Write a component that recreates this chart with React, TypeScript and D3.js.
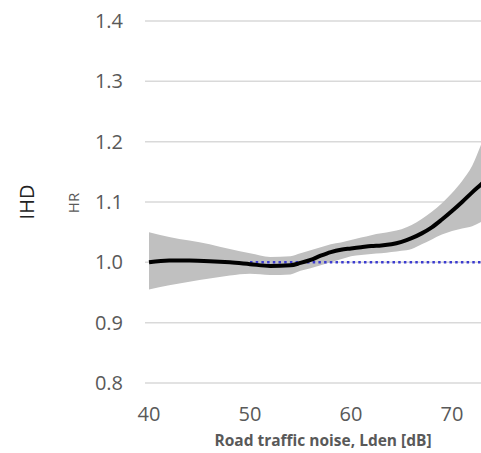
import * as d3 from "d3";

// road traffic noise, Lden [dB]
const noise = [40, 42, 44, 46, 48, 50, 52, 54, 55, 56, 57, 58, 59, 60, 61, 62, 63, 64, 65, 66, 67, 68, 69, 70, 71, 72, 73, 74];
// hazard ratio (IHD)
const hr = [1.0, 1.003, 1.003, 1.002, 1.0, 0.997, 0.994, 0.995, 0.999, 1.004, 1.011, 1.017, 1.021, 1.023, 1.025, 1.027, 1.028, 1.03, 1.034, 1.04, 1.048, 1.058, 1.071, 1.085, 1.1, 1.116, 1.131, 1.147];
const lower = [0.955, 0.962, 0.968, 0.973, 0.978, 0.981, 0.979, 0.98, 0.986, 0.99, 0.995, 1.0, 1.005, 1.01, 1.012, 1.014, 1.015, 1.017, 1.019, 1.022, 1.03, 1.038, 1.046, 1.052, 1.056, 1.06, 1.068, 1.076];
const upper = [1.05, 1.042, 1.036, 1.03, 1.022, 1.015, 1.009, 1.01, 1.015, 1.02, 1.025, 1.03, 1.033, 1.037, 1.041, 1.045, 1.048, 1.051, 1.055, 1.062, 1.072, 1.084, 1.098, 1.115, 1.135, 1.16, 1.2, 1.24];

const yTicks = [0.8, 0.9, 1.0, 1.1, 1.2, 1.3, 1.4];
const xTicks = [40, 50, 60, 70];
const refStart = 50;

const W = 481;
const H = 453;

export default function App() {
  const x = d3.scaleLinear().domain([40, 70]).range([149, 452]);
  const y = d3.scaleLinear().domain([0.8, 1.4]).range([383, 21]);

  const rows = noise.map((n, i) => ({ n, hr: hr[i], lo: lower[i], hi: upper[i] }));

  const band = d3
    .area<any>()
    .x((d) => x(d.n))
    .y0((d) => y(d.lo))
    .y1((d) => y(d.hi))
    .curve(d3.curveMonotoneX);

  const line = d3
    .line<any>()
    .x((d) => x(d.n))
    .y((d) => y(d.hr))
    .curve(d3.curveMonotoneX);

  const font = "'Open Sans', sans-serif";
  const grey = "#595959";

  return (
    <svg
      width={W}
      height={H}
      style={{ position: "absolute", left: 0, top: 0, background: "#fff" }}
      fontFamily={font}
    >
      {/* gridlines */}
      {yTicks.map((t) => (
        <line key={t} x1={145} x2={W} y1={y(t)} y2={y(t)} stroke="#d9d9d9" strokeWidth={1.5} />
      ))}

      {/* confidence band */}
      <path d={band(rows) as string} fill="#c0c0c0" />

      {/* reference HR = 1 */}
      <line
        x1={x(refStart)}
        x2={W}
        y1={y(1)}
        y2={y(1)}
        stroke="#3b3bd0"
        strokeWidth={2.5}
        strokeDasharray="2.5 3.2"
      />

      {/* HR curve */}
      <path d={line(rows) as string} fill="none" stroke="#000" strokeWidth={4} />

      {/* y tick labels */}
      {yTicks.map((t) => (
        <text key={t} x={123} y={y(t) + 7} textAnchor="end" fontSize={20} fill={grey}>
          {t.toFixed(1)}
        </text>
      ))}

      {/* x tick labels */}
      {xTicks.map((t) => (
        <text key={t} x={x(t)} y={421} textAnchor="middle" fontSize={20} fill={grey}>
          {t}
        </text>
      ))}

      {/* axis titles */}
      <text x={323} y={446} textAnchor="middle" fontSize={15.5} fontWeight="bold" fill={grey}>
        Road traffic noise, Lden [dB]
      </text>
      <text
        transform={`translate(34,${202}) rotate(-90)`}
        textAnchor="middle"
        fontSize={20}
        fill="#222"
      >
        IHD
      </text>
      <text
        transform={`translate(79,${203}) rotate(-90)`}
        textAnchor="middle"
        fontSize={15}
        fill={grey}
      >
        HR
      </text>
    </svg>
  );
}
